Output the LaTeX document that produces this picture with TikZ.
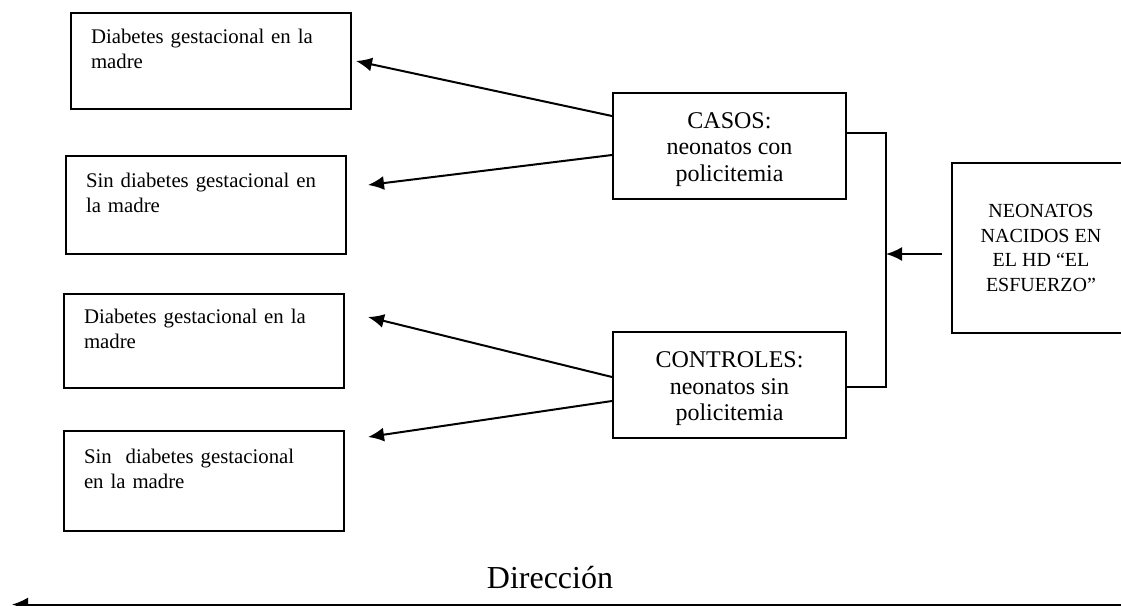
\documentclass[tikz,border=0pt]{standalone}
\usepackage{fontspec}
\setmainfont{Liberation Serif}
\usetikzlibrary{arrows.meta}
\newcommand\alto{\rule{0pt}{12pt}}
\begin{document}
\begin{tikzpicture}[x=0.5pt,y=-0.5pt,
  grupo/.style={draw,line width=1pt,anchor=north west,align=left,text width=120pt,inner xsep=10pt,font=\fontsize{10.4}{12.5}\selectfont},
  muestra/.style={draw,line width=1pt,align=center,minimum width=116.5pt,minimum height=53pt,font=\fontsize{12}{13.25}\selectfont},
  flecha/.style={line width=1pt,-{Latex[length=8pt,width=7pt]}}]
\useasboundingbox (0,0) rectangle (1121,606);
\clip (0,0) rectangle (1121,606);
% grupos por exposicion
\node[grupo,minimum height=48pt] (dgA) at (70,12) {Diabetes gestacional en la\\madre\\~};
\node[grupo,minimum height=49pt] (sdgA) at (65,155) {Sin diabetes gestacional en\\la madre\\~};
\node[grupo,minimum height=47pt] (dgB) at (63,293) {Diabetes gestacional en la\\madre\\~};
\node[grupo,minimum height=50pt] (sdgB) at (63,430) {Sin~ diabetes gestacional\\en la madre\\~};
% casos y controles
\node[muestra] (casos) at (729.5,145.5) {\alto CASOS:\\neonatos con\\policitemia};
\node[muestra] (controles) at (729.5,385) {\alto CONTROLES:\\neonatos sin\\policitemia};
\node[draw,line width=1pt,align=center,minimum width=89pt,minimum height=85pt,font=\fontsize{10}{12.25}\selectfont] (poblacion) at (1041,248) {NEONATOS\\NACIDOS EN\\EL HD “EL\\ESFUERZO”};
\coordinate (pA) at (356,61);
\coordinate (pB) at (368,185);
\coordinate (pC) at (368,317);
\coordinate (pD) at (368,437);
\coordinate (brk) at (886,254);
\draw[flecha] ([yshift=14.75pt]casos.west) -- (pA);
\draw[flecha] ([yshift=-4.75pt]casos.west) -- (pB);
\draw[flecha] ([yshift=4pt]controles.west) -- (pC);
\draw[flecha] ([yshift=-8pt]controles.west) -- (pD);
\draw[line width=0.75pt] ([yshift=6.25pt]casos.east) -| (brk) |- ([yshift=-1pt]controles.east);
\draw[flecha] ([xshift=-4.5pt,yshift=-3pt]poblacion.west) -- (brk);
% direccion
\coordinate (dirIni) at (1121,604.5);
\coordinate (dirFin) at (12,604.5);
\draw[flecha] (dirIni) -- (dirFin);
\node[anchor=base,font=\fontsize{16}{19}\selectfont] (dir) at (550,588) {Dirección};
\end{tikzpicture}
\end{document}
